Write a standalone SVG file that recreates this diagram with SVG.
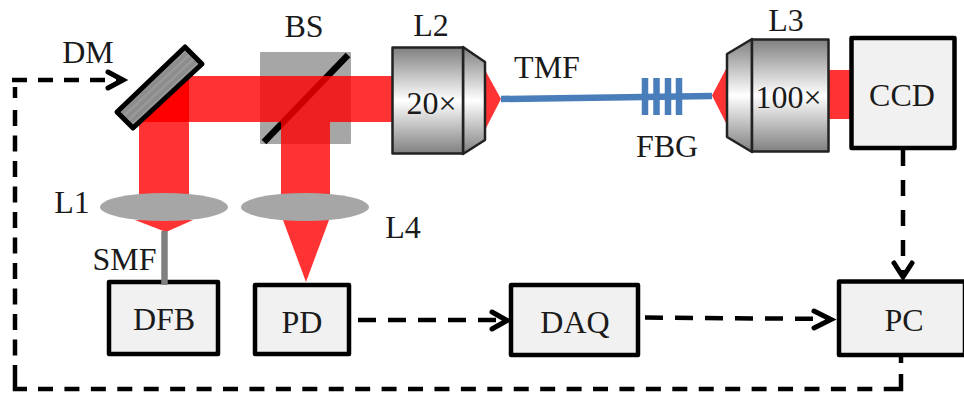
<svg xmlns="http://www.w3.org/2000/svg" width="964" height="397" viewBox="0 0 964 397">
<style>
text{font-family:"Liberation Serif","Times New Roman",serif;font-size:32px;fill:#1a1a1a}
.box{fill:#f1f1f1;stroke:#000;stroke-width:4.5;stroke-linejoin:round}
.beam{fill:#ff0000;opacity:.8}
.obj{stroke:#222;stroke-width:2.5;stroke-linejoin:round}
.line{fill:none;stroke:#000;stroke-width:4.5}
.head{fill:none;stroke:#000;stroke-width:5;stroke-linecap:round;stroke-linejoin:miter}
.lens{fill:#a6a6a6}
.fibre{fill:none;stroke:#4a7ebb;stroke-width:6.5}
</style>
<defs>
<linearGradient id="g" x1="0" y1="0" x2="0" y2="1"><stop offset="0" stop-color="#808080"/><stop offset=".5" stop-color="#fff"/><stop offset="1" stop-color="#808080"/></linearGradient>
<pattern id="hatch" width="6" height="6" patternUnits="userSpaceOnUse" patternTransform="rotate(47)"><rect width="6" height="6" fill="#8c8c8c"/><rect width="2.5" height="6" fill="#999"/></pattern>
</defs>
<g id="BS">
<rect x="260" y="52" width="91" height="92" rx="1" fill="#a6a6a6"/>
<line x1="264" y1="142" x2="348" y2="55" stroke="#000" stroke-width="6.5"/>
<text x="304" y="37" text-anchor="middle">BS</text>
</g>
<g id="beams">
<rect class="beam" x="189" y="76" width="203" height="46"/>
<polygon points="189,76 137,122 189,122" fill="#ff0000"/>
<rect class="beam" x="139" y="122" width="50" height="73"/>
<rect class="beam" x="281" y="122" width="49" height="75"/>
<polygon class="beam" points="135,220 193,220 166,232"/>
<polygon class="beam" points="283,220 329,220 306,282"/>
<polygon class="beam" points="485,70 501,99 485,130"/>
<polygon class="beam" points="727,67 712,95.500 727,125"/>
<rect class="beam" x="829" y="70" width="23" height="49"/>
</g>
<g id="DM">
<polygon points="185,47 202,64 133,128 117,112" fill="url(#hatch)" stroke="#000" stroke-width="5" stroke-linejoin="round"/>
<text x="88" y="63" text-anchor="middle">DM</text>
</g>
<g id="L1"><ellipse class="lens" cx="164" cy="207" rx="64" ry="14"/><text x="72" y="213" text-anchor="middle">L1</text></g>
<g id="L4"><ellipse class="lens" cx="305" cy="207" rx="64" ry="14"/><text x="403" y="238" text-anchor="middle">L4</text></g>
<g id="DFB"><rect class="box" x="109" y="282" width="109" height="72"/><text x="164" y="330" text-anchor="middle">DFB</text></g>
<g id="SMF"><line x1="164.500" y1="231" x2="164.500" y2="285" stroke="#808080" stroke-width="6.500"/><text x="124.500" y="270" text-anchor="middle">SMF</text></g>
<g id="PD"><rect class="box" x="255" y="285" width="94" height="69"/><text x="302" y="333" text-anchor="middle">PD</text></g>
<g id="DAQ"><rect class="box" x="511" y="285" width="127" height="70"/><text x="575" y="333" text-anchor="middle">DAQ</text></g>
<g id="PC"><rect class="box" x="839" y="281.500" width="126" height="73.500"/><text x="904" y="331" text-anchor="middle">PC</text></g>
<g id="CCD"><rect class="box" x="851.500" y="38" width="103" height="110"/><text x="902" y="106" text-anchor="middle">CCD</text></g>
<g id="L2">
<polygon class="obj" points="463,47 485,62 485,140 463,154" fill="url(#g)"/>
<rect class="obj" x="392.500" y="47.500" width="70.500" height="106" fill="url(#g)"/>
<text x="431.500" y="114" text-anchor="middle">20×</text>
<text x="431" y="36" text-anchor="middle">L2</text>
</g>
<g id="L3">
<polygon class="obj" points="752,39 727,54 727,137 752,152" fill="url(#g)"/>
<rect class="obj" x="752" y="39.500" width="76.500" height="112" fill="url(#g)"/>
<text x="788.500" y="108" text-anchor="middle">100×</text>
<text x="786" y="31" text-anchor="middle">L3</text>
</g>
<g id="TMF"><text x="547" y="78" text-anchor="middle">TMF</text><line class="fibre" x1="501" y1="99" x2="712" y2="96"/></g>
<g id="FBG">
<path class="fibre" d="M645 78V115M656.500 78V115M668 78V115M679 78V115"/>
<text x="667" y="157" text-anchor="middle">FBG</text>
</g>
<g id="connectors">
<path class="line" stroke-dasharray="15 11" d="M12 80H122"/>
<path class="line" stroke-dasharray="16 9.500" d="M15 87V98M15 110V375"/>
<path class="line" d="M15 375V389H27"/>
<path class="line" stroke-dasharray="15 11.430" d="M38 389H884"/>
<path class="line" d="M884 389H901V374M901 363V356"/>
<path class="head" d="M108 72L123 80L108 88"/>
<path class="line" stroke-dasharray="16 14" d="M903 150V277"/>
<path class="head" d="M894 263L903 277L912 263"/>
<path class="line" stroke-dasharray="18 12" d="M358 320H506"/>
<path class="head" d="M492 312L507 320.500L492 329"/>
<path class="line" stroke-dasharray="18 12" d="M645 317.500L830 319"/>
<path class="head" d="M814 311L831 319.500L814 328"/>
</g>
</svg>
